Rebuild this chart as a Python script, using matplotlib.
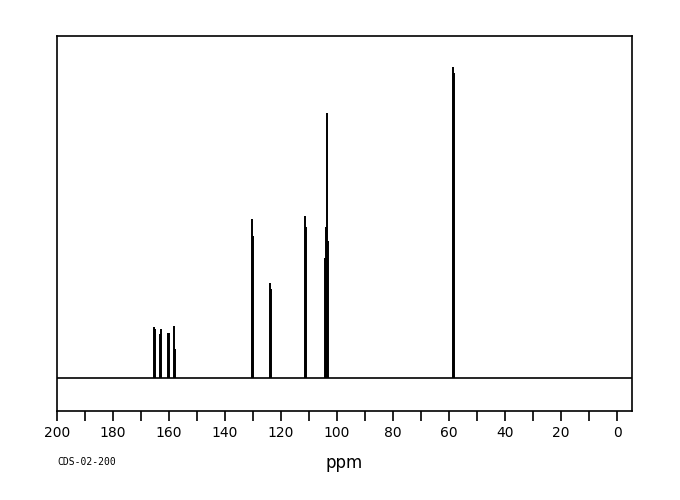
import matplotlib
matplotlib.use("Agg")
import matplotlib.pyplot as plt
from matplotlib.ticker import MultipleLocator

# ----------------------------- Peak list (13C) -----------------------------
# shift in ppm, relative intensity (tallest = 100)
shift_ppm = [165.36, 165.00, 163.07, 162.71, 160.36, 160.00, 158.21, 157.86,
             130.36, 130.10, 123.93, 123.68,
             111.50, 111.20,
             104.40, 104.04, 103.68, 103.20,
             58.57, 58.20]
intensity = [16.5, 15.9, 14.1, 15.7, 14.6, 14.4, 16.7, 9.4,
             51.2, 45.7, 30.6, 28.7,
             52.2, 48.6,
             38.6, 48.6, 85.2, 44.0,
             100.0, 98.0]

tick_major = list(range(0, 201, 20))
code_label = "CDS-02-200"

# ------------------------------- Figure -------------------------------------
fig = plt.figure(figsize=(6.8, 5.0), dpi=100)
ax = fig.add_axes([0.0838, 0.178, 0.8452, 0.750])

ax.axhline(0, color="black", linewidth=1.2)
ax.vlines(shift_ppm, 0, intensity, color="black", linewidth=1.4)

ax.set_xlim(200, -5.25)
ax.set_ylim(-10.6, 110)

ax.set_xticks(tick_major)
ax.xaxis.set_minor_locator(MultipleLocator(10))
ax.tick_params(axis="x", which="both", direction="out", length=7, width=1.2,
               labelsize=10, pad=4)
ax.set_yticks([])
for s in ax.spines.values():
    s.set_linewidth(1.2)

ax.set_xlabel("ppm", fontsize=12, labelpad=10)
fig.text(57 / 680, 1 - 462 / 500, code_label, fontsize=7,
         family="DejaVu Sans Mono", va="center", ha="left")

fig.savefig("out.png", dpi=100)
